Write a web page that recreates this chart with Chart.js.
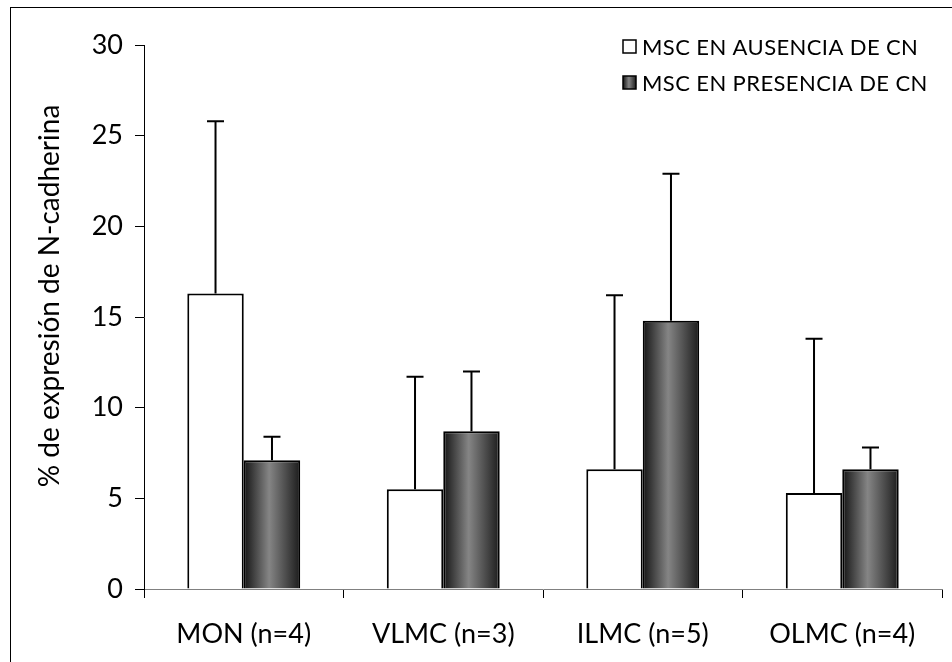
<!DOCTYPE html>
<html>
<head>
<meta charset="utf-8">
<script src="https://cdn.jsdelivr.net/npm/chart.js@4/dist/chart.umd.min.js"></script>
<style>
  html, body { margin: 0; padding: 0; background: #fff; }
  #wrap { width: 952px; height: 662px; }
</style>
</head>
<body>
<div id="wrap"><canvas id="c" width="952" height="662"></canvas></div>
<script>
// Grupos celulares y número de muestras
const categories = ['MON (n=4)', 'VLMC (n=3)', 'ILMC (n=5)', 'OLMC (n=4)'];
const seriesNames = ['MSC EN AUSENCIA DE CN', 'MSC EN PRESENCIA DE CN'];

// % de expresión de N-cadherina (media) y desviación superior
const ausencia = [16.3, 5.5, 6.6, 5.3];
const ausenciaErr = [9.5, 6.2, 9.6, 8.5];
const presencia = [7.1, 8.7, 14.8, 6.6];
const presenciaErr = [1.3, 3.3, 8.1, 1.2];

const yTickValues = [0, 5, 10, 15, 20, 25, 30];
const yTitle = '% de expresión de N-cadherina';

const FONT = 'Lato, "Open Sans", sans-serif';
const GROUP = 0.566;

function grayGradient(c, left, right) {
  const g = c.createLinearGradient(left, 0, right, 0);
  g.addColorStop(0, '#141414');
  g.addColorStop(0.45, '#858585');
  g.addColorStop(1, '#1c1c1c');
  return g;
}

// Relleno gris con degradado horizontal (oscuro en los bordes, claro al centro)
function grayFill(ctx) {
  const chart = ctx.chart;
  const xs = chart.scales && chart.scales.x;
  if (!xs || !chart.chartArea || ctx.dataIndex === undefined) return '#666';
  const center = xs.getPixelForValue(ctx.dataIndex);
  const w = xs.width / categories.length * GROUP / 2;
  return grayGradient(chart.ctx, center, center + w);
}

const errorBars = {
  id: 'errorBars',
  afterDatasetsDraw(chart) {
    const c = chart.ctx, ys = chart.scales.y;
    chart.data.datasets.forEach((ds, di) => {
      const meta = chart.getDatasetMeta(di);
      meta.data.forEach((bar, i) => {
        const top = ys.getPixelForValue(ds.data[i] + ds.errors[i]);
        c.save();
        c.strokeStyle = '#000';
        c.lineWidth = 2;
        c.beginPath();
        c.moveTo(bar.x, bar.y);
        c.lineTo(bar.x, top);
        c.moveTo(bar.x - 8.5, top);
        c.lineTo(bar.x + 8.5, top);
        c.stroke();
        c.restore();
      });
    });
  }
};

const frameAndText = {
  id: 'frameAndText',
  beforeDraw(chart) {
    const c = chart.ctx;
    c.save();
    c.fillStyle = '#fff';
    c.fillRect(0, 0, chart.width, chart.height);
    c.strokeStyle = '#000';
    c.lineWidth = 1;
    c.strokeRect(10.5, 7.5, 980, 700);
    c.restore();
  },
  afterDraw(chart) {
    const c = chart.ctx;
    // título del eje Y
    c.save();
    c.fillStyle = '#000';
    c.font = '28px ' + FONT;
    c.translate(50, 296);
    c.rotate(-Math.PI / 2);
    c.textAlign = 'center';
    c.textBaseline = 'middle';
    c.fillText(yTitle, 0, 0);
    c.restore();

    // leyenda
    const ds = chart.data.datasets;
    c.save();
    c.font = '22px ' + FONT;
    c.letterSpacing = '0.4px';
    c.textBaseline = 'middle';
    ds.forEach((d, i) => {
      const y = 47 + i * 36;
      c.lineWidth = 1.5;
      c.strokeStyle = '#000';
      c.fillStyle = i === 0 ? '#fff' : grayGradient(c, 623, 636);
      c.fillRect(623, y - 7, 13, 13);
      c.strokeRect(623, y - 7, 13, 13);
      c.fillStyle = '#000';
      c.fillText(d.label, 642, y + 1);
    });
    c.restore();
  }
};

new Chart(document.getElementById('c'), {
  type: 'bar',
  data: {
    labels: categories,
    datasets: [
      {
        label: seriesNames[0],
        data: ausencia,
        errors: ausenciaErr,
        backgroundColor: '#fff',
        borderColor: '#000',
        borderWidth: 2,
        categoryPercentage: GROUP,
        barPercentage: 1
      },
      {
        label: seriesNames[1],
        data: presencia,
        errors: presenciaErr,
        backgroundColor: grayFill,
        borderColor: '#000',
        borderWidth: 2,
        categoryPercentage: GROUP,
        barPercentage: 1
      }
    ]
  },
  options: {
    responsive: false,
    animation: false,
    layout: { padding: { left: 0, right: 10, top: 45, bottom: 0 } },
    plugins: { legend: { display: false }, tooltip: { enabled: false } },
    scales: {
      x: {
        grid: { display: true, offset: true, drawOnChartArea: false, drawTicks: true, tickLength: 9, color: '#000' },
        border: { color: '#808080', width: 1 },
        ticks: { color: '#000', font: { family: FONT, size: 27 }, padding: 20, maxRotation: 0 },
        afterFit(s) { s.height = 73; }
      },
      y: {
        min: 0,
        max: 30,
        afterBuildTicks(s) { s.ticks = yTickValues.map(v => ({ value: v })); },
        grid: { display: true, drawOnChartArea: false, drawTicks: true, tickLength: 9, color: '#000' },
        border: { color: '#000', width: 1 },
        ticks: { color: '#000', font: { family: FONT, size: 27 }, padding: 12 },
        afterFit(s) { s.width = 144; }
      }
    }
  },
  plugins: [frameAndText, errorBars]
});
</script>
</body>
</html>
